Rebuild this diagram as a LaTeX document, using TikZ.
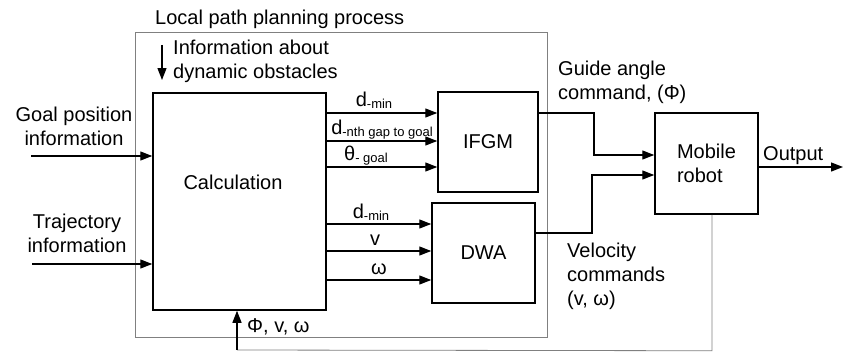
\documentclass[tikz,border=0pt]{standalone}
\usepackage{fontspec}
\setmainfont{Liberation Sans}
\usetikzlibrary{arrows.meta,positioning,calc}
\newcommand{\lowtxt}[1]{\raisebox{-0.25ex}{\fontsize{13}{13}\selectfont #1}}
\tikzset{
  blk/.style={draw, line width=1.5pt, inner sep=0pt, font=\fontsize{20}{24}\selectfont, align=left},
  sig/.style={line width=1.3pt, -{Triangle[length=12pt,width=9pt]}},
  greyline/.style={draw=gray, line width=0.8pt},
  txt/.style={font=\fontsize{20}{24}\selectfont, inner sep=0pt},
}
\begin{document}
\begin{tikzpicture}[x=1pt,y=-1pt]
\useasboundingbox[fill=white] (0,0) rectangle (848,353);
% frame of the local planner
\node[greyline, minimum width=412pt, minimum height=305pt, inner sep=0pt] (proc) at (341,184.5) {};
\node[txt, anchor=base west] (proctxt) at (155,25) {Local path planning process};
% blocks
\node[blk, minimum width=173pt, minimum height=217pt] (calc) at (239.5,201.5) {};
\node[txt] (calctxt) at (233,182) {Calculation};
\node[blk, minimum width=100pt, minimum height=100pt] (ifgm) at (488,142) {IFGM};
\node[blk, minimum width=103pt, minimum height=100pt] (dwa) at (483.5,253) {DWA};
\node[blk, minimum width=103pt, minimum height=101pt] (robot) at (706.5,163.5) {Mobile\\robot};
% inputs
\node[txt, align=center] (goaltxt) at (74,126) {Goal position\\information};
\node[txt, align=center] (trajtxt) at (77,233) {Trajectory\\information};
\coordinate (goalin) at (31,156);
\coordinate (trajin) at (32,264);
\draw[sig] (goalin) -- (calc.west |- goalin);
\draw[sig] (trajin) -- (calc.west |- trajin);
\coordinate (obstop) at (162,45);
\coordinate (obsend) at (162,80);
\draw[sig] (obstop) -- (obsend);
\node[txt, align=left, anchor=north west] (obstxt) at (173,40) {Information about\\dynamic obstacles};
% calculation -> IFGM / DWA
\foreach \yy/\dx/\lab in {113/-8/d\lowtxt{-min}, 141/0/d\lowtxt{-nth gap to goal}, 167/-16/θ\lowtxt{- goal}}
  \draw[sig] (calc.east |- 0,\yy) -- (ifgm.west |- 0,\yy)
    node[txt, midway, anchor=base, xshift=\dx pt, yshift=7pt] {\lab};
\foreach \yy/\dx/\lab in {224/-8/d\lowtxt{-min}, 251/-4/v, 280/0/ω}
  \draw[sig] (calc.east |- 0,\yy) -- (dwa.west |- 0,\yy)
    node[txt, midway, anchor=base, xshift=\dx pt, yshift=6pt] {\lab};
% commands to the robot
\draw[sig] (ifgm.east |- 0,113) -| (594,155) -- (robot.west |- 0,155);
\draw[sig] (dwa.east |- 0,233) -| (592,175) -- (robot.west |- 0,175);
\node[txt, align=left, anchor=north west] (guidetxt) at (558,61) {Guide angle\\command, (Φ)};
\node[txt, align=left, anchor=north west] (veltxt) at (567,243) {Velocity\\commands\\(v, ω)};
% output
\coordinate (outend) at (843,167);
\draw[sig] (robot.east |- outend) -- (outend);
\node[txt, anchor=base west] (outtxt) at (763,160) {Output};
% feedback
\coordinate (fbcorner) at (237,350);
\draw[greyline] ($(robot.south)+(5.5,0)$) -- ($(robot.south)+(5.5,136)$) -- (fbcorner);
\draw[sig] (fbcorner) -- (calc.south -| fbcorner);
\node[txt, anchor=base west] (fbtxt) at (247,332) {Φ, v, ω};
\end{tikzpicture}
\end{document}
